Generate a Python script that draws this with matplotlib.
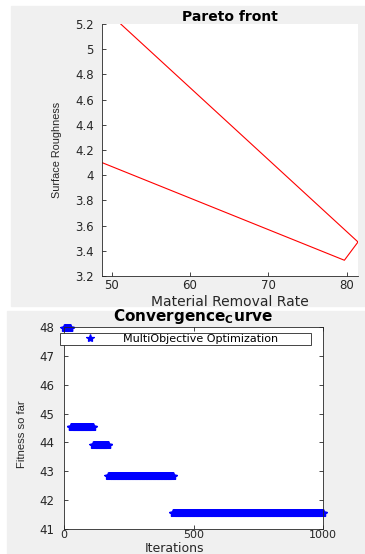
import numpy as np
import matplotlib
matplotlib.use("Agg")
import matplotlib.pyplot as plt
from matplotlib.patches import Rectangle
from matplotlib import font_manager

# Pareto front (polyline as drawn)
pareto_mrr = [51.15, 81.44, 79.7, 48.76]
pareto_sr = [5.2, 3.47, 3.325, 4.10]

# Convergence curve: fitness level and the last iteration it holds
fitness_levels = [47.98, 44.55, 43.91, 42.85, 41.54]
level_last_iter = [25, 112, 170, 420, 1000]

W, H = 365, 554
GRAY = "#f0f0f0"
DARK = "#262626"

names = {f.name for f in font_manager.fontManager.ttflist}
if "Liberation Sans Narrow" in names:
    NARROW, NSIZE = "Liberation Sans Narrow", 9
else:
    NARROW, NSIZE = "Liberation Sans", 7.8


def fx(px):
    return px / W


def fy(py):
    return 1 - py / H


def style_axes(ax, box):
    for side in ["left", "bottom", "top", "right"]:
        ax.spines[side].set_color(DARK)
        ax.spines[side].set_linewidth(0.6)
    if not box:
        ax.spines["top"].set_visible(False)
        ax.spines["right"].set_visible(False)
    ax.tick_params(direction="in", length=3, width=0.6, colors=DARK,
                   labelsize=8.5, top=box, right=box)


def main():
    fig = plt.figure(figsize=(W / 100, H / 100), dpi=100)
    fig.patch.set_facecolor("white")

    # the two figure backgrounds
    fig.add_artist(Rectangle((fx(11), fy(306)), fx(354), 300 / H,
                             transform=fig.transFigure, color=GRAY, zorder=0))
    fig.add_artist(Rectangle((fx(7), 0), fx(358), 243 / H,
                             transform=fig.transFigure, color=GRAY, zorder=0))

    # ---- Pareto front ----
    ax1 = fig.add_axes([fx(102), fy(276), fx(256), 252 / H])
    ax1.plot(pareto_mrr, pareto_sr, color="red", linewidth=0.8)
    ax1.set_xlim(48.76, 81.44)
    ax1.set_ylim(3.2, 5.2)
    yt = np.arange(3.2, 5.21, 0.2)
    ax1.set_yticks(yt)
    ax1.set_yticklabels([f"{v:g}" for v in np.round(yt, 1)])
    ax1.set_xticks([50, 60, 70, 80])
    style_axes(ax1, box=False)
    ax1.tick_params(axis="y", pad=6)
    ax1.tick_params(axis="x", pad=2)
    ax1.set_title("Pareto front", fontsize=10, fontweight="bold",
                  y=(276 - 17) / 252, va="center", pad=0)
    ax1.set_xlabel("Material Removal Rate", fontsize=10, color=DARK)
    ax1.xaxis.set_label_coords(0.5, (276 - 302) / 252)
    ax1.xaxis.label.set_va("center")
    ax1.set_ylabel("Surface Roughness", fontsize=NSIZE, family=NARROW, color=DARK)
    ax1.yaxis.set_label_coords((57 - 102) / 256, 0.5)
    ax1.yaxis.label.set_va("center")

    # ---- Convergence curve ----
    counts = np.diff([0] + level_last_iter)
    fitness = np.repeat(fitness_levels, counts)
    iters = np.arange(1, len(fitness) + 1)

    ax2 = fig.add_axes([fx(64), fy(529), fx(259), 202 / H])
    ax2.plot(iters, fitness, linestyle="none", marker="*", color="blue",
             markersize=6, markeredgewidth=0.9, label="MultiObjective Optimization",
             clip_on=False)
    ax2.set_xlim(0, 1000)
    ax2.set_ylim(41, 48)
    ax2.set_xticks([0, 500, 1000])
    ax2.set_yticks(range(41, 49))
    style_axes(ax2, box=True)
    ax2.tick_params(axis="y", pad=7)
    ax2.tick_params(axis="x", pad=0.5, labelsize=8)
    ax2.set_title(r"Convergence$_\mathbf{C}$urve", fontsize=11, fontweight="bold",
                  y=(529 - 317) / 202, va="center", pad=0)
    ax2.set_xlabel("Iterations", fontsize=9, color=DARK)
    ax2.xaxis.set_label_coords((175 - 64) / 259, (529 - 549) / 202)
    ax2.xaxis.label.set_va("center")
    ax2.set_ylabel("Fitness so far", fontsize=NSIZE + 0.3, family=NARROW, color=DARK)
    ax2.yaxis.set_label_coords((22 - 64) / 259, 0.47)
    ax2.yaxis.label.set_va("center")

    leg = fig.legend(loc="upper left", mode="expand",
                     bbox_to_anchor=(fx(60), fy(344), fx(251), 11 / H),
                     borderaxespad=0, fontsize=8, borderpad=0.1,
                     handlelength=5.2, handletextpad=0.4, fancybox=False,
                     framealpha=1, edgecolor=DARK)
    leg.get_frame().set_linewidth(0.6)

    fig.savefig("out.png", dpi=100)


if __name__ == '__main__':
    main()
